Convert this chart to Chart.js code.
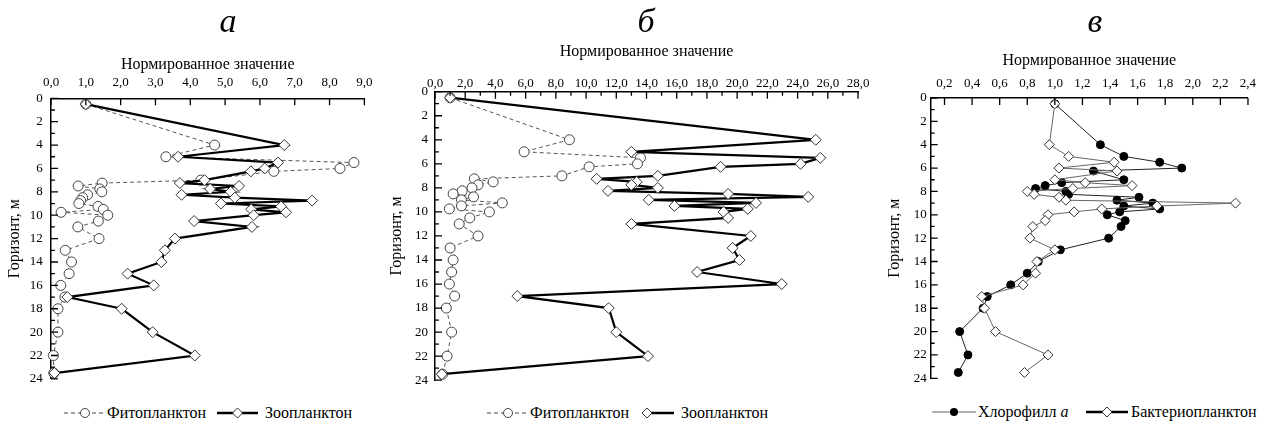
<!DOCTYPE html>
<html>
<head>
<meta charset="utf-8">
<script src="https://cdn.jsdelivr.net/npm/chart.js@4.4.0/dist/chart.umd.min.js"></script>
<style>
body{margin:0;background:#fff;font-family:'Liberation Serif','Times New Roman',serif;color:#000;}
#wrap{position:relative;width:1263px;height:421px;overflow:hidden;}
canvas{position:absolute;top:0;}
.lbl{position:absolute;top:4px;font-style:italic;font-size:34px;line-height:34px;transform:translateX(-50%);}
.leg{position:absolute;display:flex;align-items:center;font-size:16px;line-height:18px;white-space:nowrap;}
.leg svg{display:block;}
</style>
</head>
<body>
<div id="wrap">
  <canvas id="chartA" width="380" height="395" style="left:0px"></canvas>
  <canvas id="chartB" width="490" height="395" style="left:380px"></canvas>
  <canvas id="chartC" width="393" height="395" style="left:870px"></canvas>

  <div class="lbl" style="left:228px">а</div>
  <div class="lbl" style="left:646px">б</div>
  <div class="lbl" style="left:1095px">в</div>

  <!-- legends -->
  <div class="leg" style="left:64px;top:404px">
    <svg width="42" height="14"><line x1="0" y1="7" x2="42" y2="7" stroke="#444" stroke-width="1" stroke-dasharray="4,3"/><circle cx="21" cy="7" r="4.5" fill="#fff" stroke="#444"/></svg>
    <span style="margin-left:1px">Фитопланктон</span>
  </div>
  <div class="leg" style="left:217px;top:404px">
    <svg width="41" height="14"><line x1="0" y1="7" x2="41" y2="7" stroke="#000" stroke-width="2.5"/><path d="M20.5 2 L25.5 7 L20.5 12 L15.5 7 Z" fill="#fff" stroke="#333"/></svg>
    <span style="margin-left:7px">Зоопланктон</span>
  </div>

  <div class="leg" style="left:487px;top:404px">
    <svg width="42" height="14"><line x1="0" y1="7" x2="42" y2="7" stroke="#444" stroke-width="1" stroke-dasharray="4,3"/><circle cx="21" cy="7" r="4.5" fill="#fff" stroke="#444"/></svg>
    <span style="margin-left:1px">Фитопланктон</span>
  </div>
  <div class="leg" style="left:640px;top:404px">
    <svg width="34" height="14"><line x1="8" y1="7" x2="34" y2="7" stroke="#000" stroke-width="2.5"/><path d="M7 2 L12 7 L7 12 L2 7 Z" fill="#fff" stroke="#333"/></svg>
    <span style="margin-left:7px">Зоопланктон</span>
  </div>

  <div class="leg" style="left:932px;top:403px">
    <svg width="44" height="14"><line x1="0" y1="7" x2="44" y2="7" stroke="#666" stroke-width="1.2"/><circle cx="22" cy="7" r="4" fill="#000"/></svg>
    <span style="margin-left:2px">Хлорофилл&nbsp;<i>а</i></span>
  </div>
  <div class="leg" style="left:1086px;top:403px">
    <svg width="42" height="14"><line x1="0" y1="7" x2="42" y2="7" stroke="#000" stroke-width="2.5"/><path d="M21 2 L26 7 L21 12 L16 7 Z" fill="#fff" stroke="#333"/></svg>
    <span style="margin-left:3px">Бактериопланктон</span>
  </div>
</div>

<script>
// sampling depths (m), shared by all profiles
const depths = [0.5, 4, 5, 5.5, 6, 6.25, 7, 7.25, 7.5, 7.75, 8, 8.25, 8.5, 8.75, 9, 9.25, 9.5, 9.75, 10, 10.5, 11, 12, 13, 14, 15, 16, 17, 18, 20, 22, 23.5];

// panel а
const phytoA = [1.0, 4.7, 3.3, 8.7, 8.3, 6.4, 4.3, 1.47, 0.78, 1.4, 1.46, 1.05, 0.91, 0.85, 0.8, 1.35, 1.5, 0.29, 1.63, 1.36, 0.77, 1.38, 0.41, 0.59, 0.52, 0.28, 0.4, 0.2, 0.2, 0.07, 0.08];
const zooA = [1.0, 6.7, 3.65, 6.52, 6.14, 5.74, 4.41, 3.7, 5.4, 4.57, 5.16, 3.75, 5.28, 7.5, 4.88, 6.61, 5.75, 6.75, 5.82, 4.11, 5.77, 3.56, 3.27, 3.17, 2.2, 2.95, 0.47, 2.03, 2.92, 4.13, 0.1];

// panel б
const phytoB = [1.0, 8.9, 5.9, 13.6, 13.4, 10.2, 8.4, 2.6, 3.85, 2.85, 2.45, 1.8, 1.2, 2.55, 1.75, 4.45, 1.75, 0.95, 3.6, 2.3, 1.6, 2.85, 1.0, 1.2, 1.1, 0.95, 1.3, 0.75, 1.1, 0.8, 0.5];
const zooB = [1.0, 25.2, 13.0, 25.5, 24.2, 18.9, 14.75, 10.7, 13.35, 13.0, 14.75, 11.45, 19.4, 24.7, 14.15, 21.25, 15.85, 20.7, 19.1, 19.4, 13.0, 20.9, 19.7, 20.15, 17.35, 22.95, 5.45, 11.5, 12.0, 14.1, 0.45];

// panel в
const chlC = [1.0, 1.33, 1.5, 1.76, 1.92, 1.28, 1.5, 1.05, 0.93, 0.86, 1.08, 1.1, 1.61, 1.45, 1.71, 1.5, 1.76, 1.47, 1.38, 1.51, 1.48, 1.39, 1.04, 0.88, 0.8, 0.68, 0.51, 0.48, 0.31, 0.37, 0.3];
const bactC = [1.0, 0.96, 1.1, 1.43, 1.03, 1.45, 1.0, 1.22, 1.56, 1.13, 0.8, 0.85, 1.03, 1.08, 2.31, 1.74, 1.34, 1.14, 0.95, 0.93, 0.84, 0.82, 1.0, 0.87, 0.86, 0.77, 0.47, 0.49, 0.57, 0.95, 0.78];

// tick labels
const xTicksA = [0, 1, 2, 3, 4, 5, 6, 7, 8, 9];
const xTicksB = [0, 2, 4, 6, 8, 10, 12, 14, 16, 18, 20, 22, 24, 26, 28];
const xMinorB = [1, 3, 5, 7, 9, 11, 13, 15, 17, 19, 21, 23, 25, 27];
const xTicksC = [0.2, 0.4, 0.6, 0.8, 1.0, 1.2, 1.4, 1.6, 1.8, 2.0, 2.2, 2.4];
const yTicks = [0, 2, 4, 6, 8, 10, 12, 14, 16, 18, 20, 22, 24];
const yMinor = [1, 3, 5, 7, 9, 11, 13, 15, 17, 19, 21, 23];

const SERIF = "'Liberation Serif', 'Times New Roman', serif";

function fmt(v) {
  return Number(v).toFixed(1).replace('.', ',');
}

function profile(vals) {
  return depths.map((d, i) => ({x: vals[i], y: d}));
}

// tick marks pointing into the plot
const inTicks = {
  id: 'inTicks',
  afterDraw(chart, args, opts) {
    const ctx = chart.ctx;
    const area = chart.chartArea;
    const xs = chart.scales.x, ys = chart.scales.y;
    ctx.save();
    ctx.strokeStyle = '#000';
    ctx.lineWidth = 1.3;
    ctx.beginPath();
    (opts.xMajor || []).forEach(v => {
      const p = xs.getPixelForValue(v);
      ctx.moveTo(p, area.top); ctx.lineTo(p, area.top + 7);
    });
    (opts.xMinor || []).forEach(v => {
      const p = xs.getPixelForValue(v);
      ctx.moveTo(p, area.top); ctx.lineTo(p, area.top + 4);
    });
    (opts.yMajor || []).forEach(v => {
      const p = ys.getPixelForValue(v);
      ctx.moveTo(area.left, p); ctx.lineTo(area.left + 7, p);
    });
    (opts.yMinor || []).forEach(v => {
      const p = ys.getPixelForValue(v);
      ctx.moveTo(area.left, p); ctx.lineTo(area.left + 4, p);
    });
    ctx.stroke();
    ctx.restore();
  }
};

function makePanel(id, cfg) {
  const ctx = document.getElementById(id).getContext('2d');
  return new Chart(ctx, {
    type: 'scatter',
    data: {datasets: cfg.datasets},
    options: {
      responsive: false,
      animation: false,
      layout: {padding: cfg.pad},
      plugins: {
        legend: {display: false},
        tooltip: {enabled: false},
        inTicks: cfg.marks
      },
      scales: {
        x: {
          type: 'linear',
          position: 'top',
          min: cfg.xMin,
          max: cfg.xMax,
          afterBuildTicks: s => { s.ticks = cfg.xTicks.map(v => ({value: v})); },
          afterFit: s => { s.height = cfg.xH; },
          ticks: {callback: v => fmt(v), font: {family: SERIF, size: 13}, color: '#000', padding: cfg.xPad, maxRotation: 0, autoSkip: false},
          grid: {display: false, drawTicks: false},
          border: {display: true, color: '#000', width: 1.5},
          title: {display: true, text: 'Нормированное значение', font: {family: SERIF, size: 16}, color: '#000', padding: {top: 4, bottom: 0}}
        },
        y: {
          type: 'linear',
          reverse: true,
          min: 0,
          max: 24,
          afterBuildTicks: s => { s.ticks = yTicks.map(v => ({value: v})); },
          afterFit: s => { s.width = cfg.yW; },
          ticks: {callback: v => String(v), font: {family: SERIF, size: 13}, color: '#000', padding: cfg.yPad, autoSkip: false},
          grid: {display: false, drawTicks: false},
          border: {display: true, color: '#000', width: 1.5},
          title: {display: true, text: 'Горизонт, м', font: {family: SERIF, size: 16}, color: '#000', padding: {top: cfg.yTitlePad, bottom: 0}}
        }
      }
    },
    plugins: [inTicks]
  });
}

function phytoSet(vals) {
  return {
    label: 'Фитопланктон', data: profile(vals), showLine: true, clip: false, order: 2,
    borderColor: '#555', borderWidth: 1, borderDash: [4, 3],
    pointStyle: 'circle', pointRadius: 5, pointBorderWidth: 1,
    pointBorderColor: '#444', pointBackgroundColor: '#fff'
  };
}

function zooSet(vals) {
  return {
    label: 'Зоопланктон', data: profile(vals), showLine: true, clip: false, order: 1,
    borderColor: '#000', borderWidth: 2.2,
    pointStyle: 'rectRot', pointRadius: 5.5, pointBorderWidth: 1,
    pointBorderColor: '#333', pointBackgroundColor: '#fff'
  };
}

makePanel('chartA', {
  datasets: [phytoSet(phytoA), zooSet(zooA)],
  xMin: 0, xMax: 9, xTicks: xTicksA,
  pad: {left: 0, top: 51, right: 8, bottom: 13.3},
  xH: 47.3, xPad: 7.5, yW: 51, yPad: 8.3, yTitlePad: 5.4,
  marks: {xMajor: xTicksA, yMajor: yTicks, yMinor: yMinor}
});

makePanel('chartB', {
  datasets: [phytoSet(phytoB), zooSet(zooB)],
  xMin: 0, xMax: 28, xTicks: xTicksB,
  pad: {left: 0, top: 38, right: 10.7, bottom: 11.3},
  xH: 53.7, xPad: 0.6, yW: 55, yPad: 7, yTitlePad: 7,
  marks: {xMajor: xTicksB, xMinor: xMinorB, yMajor: yTicks, yMinor: yMinor}
});

makePanel('chartC', {
  datasets: [
    {
      label: 'Хлорофилл а', data: profile(chlC), showLine: true, clip: false, order: 2,
      borderColor: '#222', borderWidth: 1,
      pointStyle: 'circle', pointRadius: 4, pointBorderWidth: 1,
      pointBorderColor: '#000', pointBackgroundColor: '#000'
    },
    {
      label: 'Бактериопланктон', data: profile(bactC), showLine: true, clip: false, order: 1,
      borderColor: '#666', borderWidth: 1,
      pointStyle: 'rectRot', pointRadius: 5, pointBorderWidth: 1,
      pointBorderColor: '#333', pointBackgroundColor: '#fff'
    }
  ],
  xMin: 0.1, xMax: 2.4, xTicks: xTicksC,
  pad: {left: 0, top: 47, right: 5.5, bottom: 16.7},
  xH: 51, xPad: 6.9, yW: 60.7, yPad: 4, yTitlePad: 15.4,
  marks: {xMajor: xTicksC, yMajor: yTicks, yMinor: yMinor}
});
</script>
</body>
</html>
